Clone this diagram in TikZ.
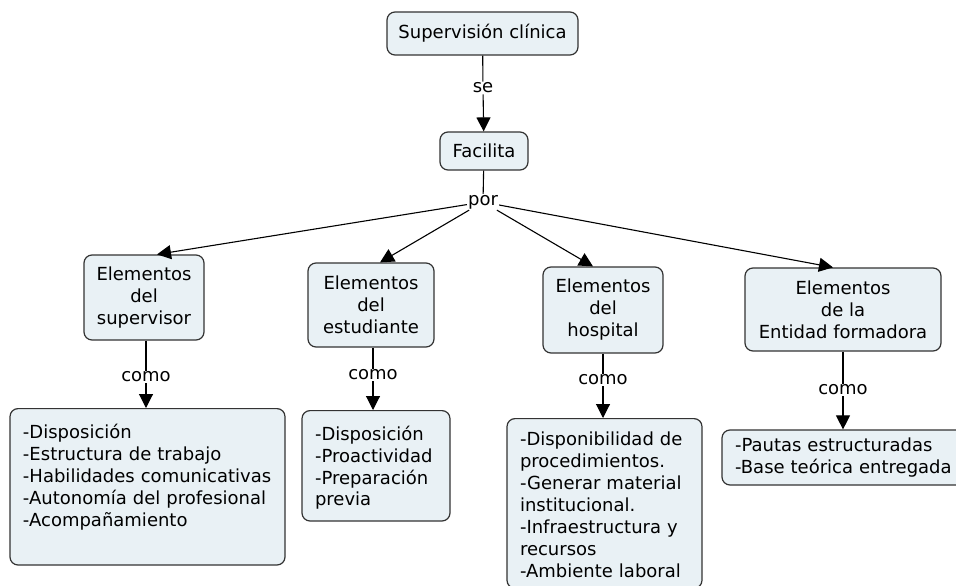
\documentclass[tikz,border=0pt]{standalone}
\usepackage{fontspec}
\setmainfont{DejaVu Sans}
\usetikzlibrary{arrows.meta}
\definecolor{boxfill}{HTML}{E9F1F5}
\definecolor{boxline}{HTML}{333333}
\tikzset{
  concept/.style={draw=boxline, line width=1.2pt, fill=boxfill, rounded corners=8pt, align=center, inner sep=3pt},
  listbox/.style={concept, align=left, inner xsep=13pt},
  link/.style={inner sep=1pt, fill=white},
  conn/.style={line width=1.1pt, draw=black, -{Triangle[width=14pt,length=14pt]}},
  plain/.style={line width=1.1pt, draw=black},
}
\begin{document}
\begin{tikzpicture}[x=1pt,y=-1pt, font=\fontsize{18}{22}\selectfont]
\useasboundingbox (0,0) rectangle (956,586);
% concepts
\node[concept, minimum width=191pt, minimum height=43pt] (sc) at (482.5,33.5) {Supervisión clínica};
\node[concept, minimum width=88pt, minimum height=38pt] (fac) at (484,151) {Facilita};
\node[concept, minimum width=120pt, minimum height=85pt] (sup) at (144,297.5) {Elementos\\del\\supervisor};
\node[concept, minimum width=126pt, minimum height=84pt] (est) at (371,305) {Elementos\\del\\estudiante};
\node[concept, minimum width=120pt, minimum height=86pt] (hos) at (603,310) {Elementos\\del\\hospital};
\node[concept, minimum width=196pt, minimum height=83pt] (ent) at (843,309.5) {Elementos\\de la\\Entidad formadora};
% lists
\node[listbox, anchor=north, text width=249pt, inner ysep=15pt, text depth=112pt] (supl) at (147.5,408) {-Disposición\\-Estructura de trabajo\\-Habilidades comunicativas\\-Autonomía del profesional\\-Acompañamiento};
\node[listbox, anchor=north, text width=122pt, inner ysep=15pt, text depth=66pt] (estl) at (376,410) {-Disposición\\-Proactividad\\-Preparación\\previa};
\node[listbox, anchor=north, text width=169pt, inner ysep=13pt, text depth=130pt] (hosl) at (604.5,418) {-Disponibilidad de\\procedimientos.\\-Generar material\\institucional.\\-Infraestructura y\\recursos\\-Ambiente laboral};
\node[listbox, text width=227pt, minimum height=55pt] (entl) at (848.5,457.5) {-Pautas estructuradas\\-Base teórica entregada};
% linking phrases
\node[link] (se) at (483,88) {se};
\node[link] (por) at (483,202) {por};
\node[link] (c1) at (146,377) {como};
\node[link] (c2) at (373,375) {como};
\node[link] (c3) at (603,380) {como};
\node[link] (c4) at (843,390) {como};
% connectors
\draw[plain] (sc) -- (se);
\draw[conn] (se) -- (fac);
\draw[plain] (fac) -- (por);
\draw[conn] (por) -- ([xshift=13pt]sup.north);
\draw[conn] (por) -- ([xshift=9pt]est.north);
\draw[conn] (por) -- ([xshift=-10pt]hos.north);
\draw[conn] (por) -- ([xshift=-10pt]ent.north);
\draw[plain] (sup.south -| c1) -- (c1);
\draw[conn] (c1) -- (c1 |- supl.north);
\draw[plain] (est.south -| c2) -- (c2);
\draw[conn] (c2) -- (c2 |- estl.north);
\draw[plain] (hos.south -| c3) -- (c3);
\draw[conn] (c3) -- (c3 |- hosl.north);
\draw[plain] (ent.south -| c4) -- (c4);
\draw[conn] (c4) -- (c4 |- entl.north);
\end{tikzpicture}
\end{document}
